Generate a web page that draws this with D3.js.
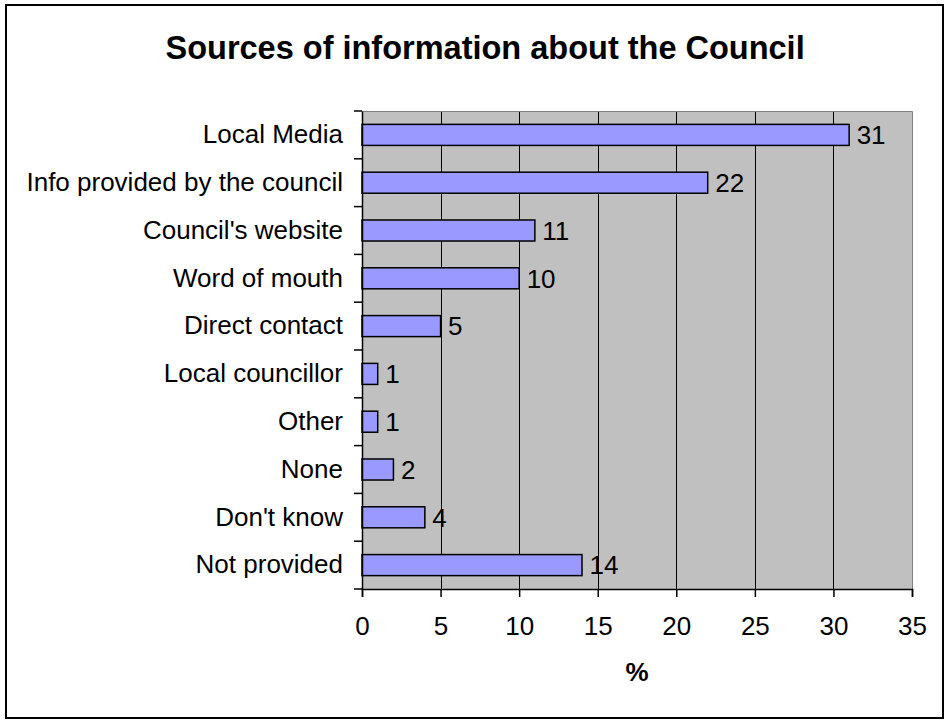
<!DOCTYPE html>
<html>
<head>
<meta charset="utf-8">
<script src="https://cdn.jsdelivr.net/npm/d3@7"></script>
<style>
  html, body { margin: 0; padding: 0; background: #fff; }
  svg { display: block; font-family: Arial, "Liberation Sans", sans-serif; }
</style>
</head>
<body>
<svg id="chart" width="946" height="720"></svg>
<script>
// Survey responses: where people get information about the Council (%)
const categories = [
  "Local Media",
  "Info provided by the council",
  "Council's website",
  "Word of mouth",
  "Direct contact",
  "Local councillor",
  "Other",
  "None",
  "Don't know",
  "Not provided"
];
const values = [31, 22, 11, 10, 5, 1, 1, 2, 4, 14];
const xTicks = [0, 5, 10, 15, 20, 25, 30, 35];
const titleText = "Sources of information about the Council";
const axisTitle = "%";

const FONT = "Arial, 'Liberation Sans', sans-serif";
const svg = d3.select("#chart");
const W = 946, H = 720;
const plot = { left: 362, right: 912, top: 111, bottom: 589 };

svg.append("rect").attr("width", W).attr("height", H).attr("fill", "#fff");
// outer chart frame
svg.append("rect")
  .attr("x", 6).attr("y", 5).attr("width", 937).attr("height", 713)
  .attr("fill", "none").attr("stroke", "#000").attr("stroke-width", 2);

const x = d3.scaleLinear().domain([0, 35]).range([plot.left, plot.right]);
const y = d3.scaleBand().domain(categories).range([plot.top, plot.bottom]).paddingInner(0.56).paddingOuter(0.28);
const yb = d3.scaleBand().domain(categories).range([plot.top, plot.bottom]).padding(0);

// plot background
svg.append("rect")
  .attr("x", plot.left).attr("y", plot.top)
  .attr("width", plot.right - plot.left).attr("height", plot.bottom - plot.top)
  .attr("fill", "#c0c0c0");

// vertical gridlines
svg.append("g").selectAll("line")
  .data(xTicks.filter(d => d > 0 && d < 35))
  .join("line")
  .attr("x1", d => Math.round(x(d)) + 0.5).attr("x2", d => Math.round(x(d)) + 0.5)
  .attr("y1", plot.top).attr("y2", plot.bottom)
  .attr("stroke", "#000").attr("stroke-width", 1);

// top / right plot border
svg.append("path")
  .attr("d", `M${plot.left},${plot.top + 0.5}H${plot.right + 0.5}V${plot.bottom}`)
  .attr("fill", "none").attr("stroke", "#808080").attr("stroke-width", 1);

// bars
const rows = categories.map((c, i) => ({ c, v: values[i] }));
svg.append("g").selectAll("rect")
  .data(rows)
  .join("rect")
  .attr("x", x(0))
  .attr("y", d => y(d.c))
  .attr("width", d => x(d.v) - x(0))
  .attr("height", y.bandwidth())
  .attr("fill", "#9999ff")
  .attr("stroke", "#000").attr("stroke-width", 1.5);

// value labels
svg.append("g").selectAll("text")
  .data(rows)
  .join("text")
  .attr("x", d => x(d.v) + 7.5)
  .attr("y", d => y(d.c) + y.bandwidth() / 2)
  .attr("dy", "0.36em")
  .attr("font-size", 26)
  .attr("font-family", FONT)
  .attr("fill", "#000")
  .text(d => d.v);

// y axis
const yAxis = d3.axisLeft(yb).tickSize(0).tickPadding(19);
const gy = svg.append("g").attr("transform", `translate(${plot.left},0)`).call(yAxis);
gy.select(".domain").attr("stroke", "#000").attr("stroke-width", 1.5);
gy.selectAll("text").attr("font-size", 26).attr("fill", "#000").attr("font-family", FONT);
// category boundary ticks
svg.append("g").selectAll("line")
  .data(d3.range(categories.length + 1))
  .join("line")
  .attr("x1", plot.left - 8).attr("x2", plot.left)
  .attr("y1", i => plot.top + i * yb.step()).attr("y2", i => plot.top + i * yb.step())
  .attr("stroke", "#000").attr("stroke-width", 1.5);

// x axis
const xAxis = d3.axisBottom(x).tickValues(xTicks).tickSize(8).tickPadding(0);
const gx = svg.append("g").attr("transform", `translate(0,${plot.bottom})`).call(xAxis);
gx.select(".domain").attr("stroke", "#000").attr("stroke-width", 1.5);
gx.selectAll(".tick line").attr("stroke", "#000").attr("stroke-width", 1.5);
gx.selectAll("text")
  .attr("y", 46).attr("dy", null)
  .attr("font-size", 26).attr("fill", "#000").attr("font-family", FONT);

// titles
svg.append("text")
  .attr("x", 165.5).attr("y", 59)
  .attr("font-size", 32.5).attr("font-weight", "bold")
  .attr("font-family", FONT)
  .text(titleText);

svg.append("text")
  .attr("x", (plot.left + plot.right) / 2).attr("y", 681)
  .attr("text-anchor", "middle")
  .attr("font-size", 26).attr("font-weight", "bold")
  .attr("font-family", FONT)
  .text(axisTitle);
</script>
</body>
</html>
